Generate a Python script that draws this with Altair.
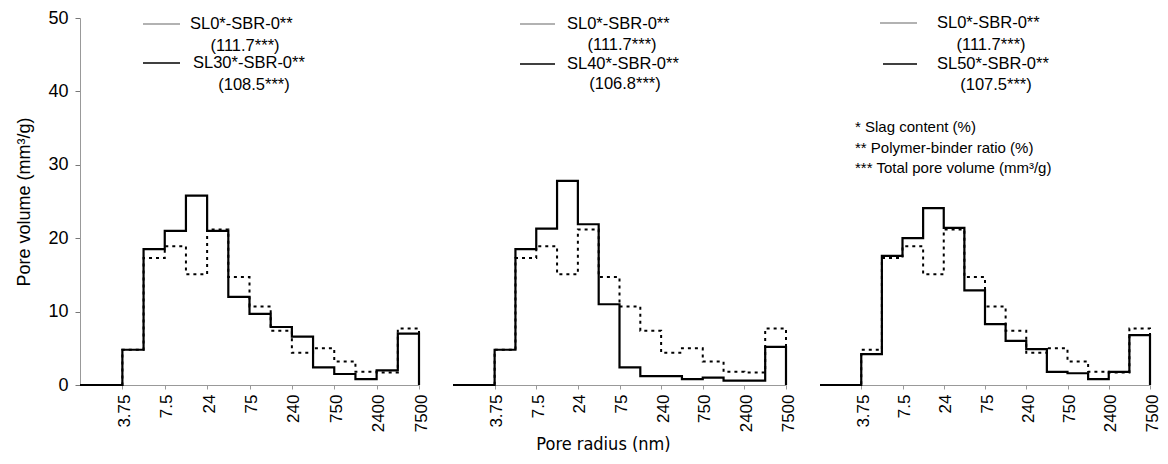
import altair as alt
import pandas as pd

FONT = "Liberation Sans"
NARROW = "DejaVu Sans Condensed, Liberation Sans Narrow, Liberation Sans"

# bin-edge index: -2 .. 14 ; labelled edges every second bin
edge_idx = list(range(-2, 15))
tick_vals = [0, 2, 4, 6, 8, 10, 12, 14]
tick_labels = ["3.75", "7.5", "24", "75", "240", "750", "2400", "7500"]

# pore volume (mm3/g) per bin, from left edge of plot to 7500 nm
sl0 = [0, 0, 4.8, 17.3, 18.9, 15.1, 21.2, 14.7, 10.7, 7.4, 4.4, 5.0, 3.2, 1.8, 1.7, 7.7]
sl30 = [0, 0, 4.8, 18.5, 21.0, 25.8, 21.0, 12.0, 9.7, 7.9, 6.6, 2.4, 1.5, 0.8, 2.0, 7.0]
sl40 = [0, 0, 4.8, 18.5, 21.3, 27.8, 21.9, 11.0, 2.4, 1.2, 1.2, 0.8, 1.0, 0.6, 0.6, 5.2]
sl50 = [0, 0, 4.2, 17.6, 20.0, 24.1, 21.4, 12.9, 8.3, 6.0, 4.9, 1.8, 1.6, 0.8, 1.8, 6.8]

ref_name = "SL0*-SBR-0**"
ref_total = "(111.7***)"
names = ["SL30*-SBR-0**", "SL40*-SBR-0**", "SL50*-SBR-0**"]
totals = ["(108.5***)", "(106.8***)", "(107.5***)"]
footnotes = ["* Slag content  (%)", "** Polymer-binder ratio  (%)", "*** Total pore volume  (mm³/g)"]

label_expr = "[" + ",".join("'%s'" % t for t in tick_labels) + "][datum.value/2]"


def series_df(vals):
    return pd.DataFrame({"x": edge_idx, "y": vals + [0]})


def text_mark(text, x, y, align="left", size=16.5):
    return alt.Chart(pd.DataFrame({"t": [text]})).mark_text(
        align=align, baseline="middle", fontSize=size, font=FONT, color="black"
    ).encode(x=alt.value(x), y=alt.value(y), text="t:N")


def sample(x1, x2, y, color, width):
    return alt.Chart(pd.DataFrame({"a": [0]})).mark_rule(color=color, strokeWidth=width).encode(
        x=alt.value(x1), x2=alt.value(x2), y=alt.value(y)
    )


def panel(k, vals, width, leg):
    first = k == 0
    xenc = alt.X(
        "x:Q",
        scale=alt.Scale(domain=[-2, 14], nice=False, zero=False),
        axis=alt.Axis(
            values=tick_vals, labelExpr=label_expr, labelAngle=270, labelFontSize=17,
            labelFont=FONT, labelOffset=2, labelPadding=5, tickSize=4, tickColor="#999",
            domainColor="#999", domainWidth=1, grid=False,
            title="Pore radius (nm)" if k == 1 else None,
            titleFont=NARROW, titleFontSize=18, titleFontWeight="normal",
            titleX=150, titleY=50, titleBaseline="top",
        ),
    )
    if first:
        yaxis = alt.Axis(
            values=[0, 10, 20, 30, 40, 50], labelFontSize=18, labelFont=FONT,
            labelPadding=7, tickSize=5, tickColor="#777", domainColor="#999",
            domainWidth=1, grid=False, title="Pore volume (mm³/g)",
            titleFont=FONT, titleFontSize=18, titleFontWeight="normal", titlePadding=14,
        )
    else:
        yaxis = None
    yenc = alt.Y("y:Q", scale=alt.Scale(domain=[0, 50], nice=False), axis=yaxis)

    solid = alt.Chart(series_df(vals)).mark_line(
        interpolate="step-after", color="black", strokeWidth=2.2
    ).encode(x=xenc, y=yenc)
    dotted = alt.Chart(series_df(sl0)).mark_line(
        interpolate="step-after", color="black", strokeWidth=2, strokeDash=[3, 4]
    ).encode(x=xenc, y=yenc)

    (s1x1, s1x2, s1y, t1x, c1x, c1y, s2x1, s2x2, s2y, t2x, c2x, c2y) = leg
    layers = [
        solid, dotted,
        sample(s1x1, s1x2, s1y, "#666", 1.2),
        text_mark(ref_name, t1x, s1y),
        text_mark(ref_total, c1x, c1y, align="center"),
        sample(s2x1, s2x2, s2y, "black", 1.4),
        text_mark(names[k], t2x, s2y),
        text_mark(totals[k], c2x, c2y, align="center"),
    ]
    if k == 2:
        for i, f in enumerate(footnotes):
            layers.append(text_mark(f, 35, 109 + 20.5 * i, size=15))
    return alt.layer(*layers).properties(width=width, height=367)


legs = [
    (63, 100, 6, 110, 165, 28, 63, 100, 45, 113, 174, 67),
    (67, 102, 6, 114, 169, 27, 67, 102, 46, 114, 172, 66),
    (60, 97, 5, 117, 171, 27, 63, 97, 46, 117, 176, 67),
]
widths = [339, 333, 330]
panels = [panel(k, v, widths[k], legs[k]) for k, v in enumerate([sl30, sl40, sl50])]

chart = alt.hconcat(*panels, spacing=19).properties(
    padding={"left": 7, "top": 1, "right": 0, "bottom": 0},
).configure(background="white").configure_view(stroke=None)

chart.save("out.html", embed_options={"renderer": "svg", "actions": False})
